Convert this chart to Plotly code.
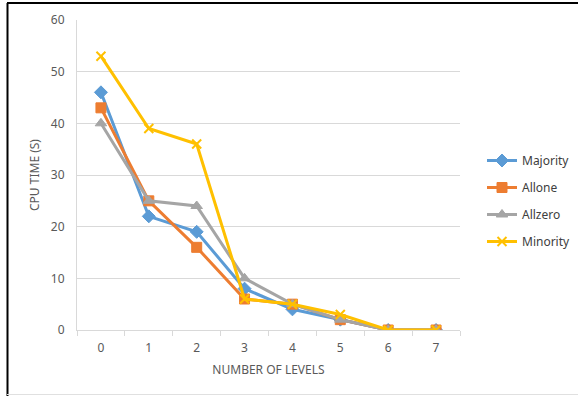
import plotly.graph_objects as go

levels = [0, 1, 2, 3, 4, 5, 6, 7]
majority = [46, 22, 19, 8, 4, 2, 0, 0]
allone = [43, 25, 16, 6, 5, 2, 0, 0]
allzero = [40, 25, 24, 10, 5, 2, 0, 0]
minority = [53, 39, 36, 6, 5, 3, 0, 0]
y_ticks = [0, 10, 20, 30, 40, 50, 60]

series = [
    ("Majority", majority, "#5B9BD5", "diamond", 10),
    ("Allone", allone, "#ED7D31", "square", 10),
    ("Allzero", allzero, "#A5A5A5", "triangle-up", 10),
    ("Minority", minority, "#FFC000", "x-thin", 9),
]

W, H = 578, 396
L, R, T, B = 77, 118, 20, 66
pw, ph = W - L - R, H - T - B

FONT = "Noto Sans"
TXT = "#595959"

fig = go.Figure()
for i, (name, vals, col, sym, sz) in enumerate(series):
    marker = dict(symbol=sym, size=sz, color=col)
    if sym == "x-thin":
        marker["line"] = dict(color=col, width=2)
    else:
        marker["line"] = dict(color=col, width=1)
    fig.add_trace(go.Scatter(
        x=levels, y=vals, name=name, mode="lines+markers",
        line=dict(color=col, width=3), marker=marker,
        legendgroup=name,
    ))

def px_x(p):
    return (p - L) / pw

def px_y(p):
    return 1 - (p - T) / ph

shapes = [
    dict(type="line", xref="paper", yref="paper", x0=px_x(7), x1=px_x(580), y0=px_y(3), y1=px_y(3),
         line=dict(color="black", width=2)),
    dict(type="line", xref="paper", yref="paper", x0=px_x(7.5), x1=px_x(7.5), y0=px_y(3), y1=px_y(398),
         line=dict(color="black", width=2)),
    dict(type="line", xref="paper", yref="paper", x0=px_x(7), x1=px_x(580), y0=px_y(394.5), y1=px_y(394.5),
         line=dict(color="#e0e0e0", width=1)),
]

fig.update_layout(
    width=W, height=H,
    margin=dict(l=L, r=R, t=T, b=B, autoexpand=False),
    paper_bgcolor="white", plot_bgcolor="white",
    font=dict(family=FONT, size=12, color=TXT),
    showlegend=True,
    legend=dict(xref="container", yref="container", x=482 / W, y=1 - 146 / H,
                xanchor="left", yanchor="top",
                font=dict(family=FONT, size=12, color="#404040"),
                tracegroupgap=8, itemwidth=30, bgcolor="rgba(0,0,0,0)"),
    shapes=shapes,
    xaxis=dict(
        range=[-0.5, 7.5], tickmode="array", tickvals=levels, ticktext=[str(v) for v in levels],
        ticks="", showgrid=False, zeroline=False,
        showline=True, linecolor="#d9d9d9", linewidth=1,
        minor=dict(tickmode="array", tickvals=[v - 0.5 for v in levels] + [7.5],
                   ticks="outside", ticklen=5, tickcolor="#d9d9d9", showgrid=False),
        title=dict(text="NUMBER OF LEVELS", font=dict(family=FONT, size=12, color=TXT), standoff=10),
        tickfont=dict(family=FONT, size=12, color=TXT), ticklabelstandoff=7,
        fixedrange=True,
    ),
    yaxis=dict(
        range=[0, 60], tickmode="array", tickvals=y_ticks, ticks="",
        showgrid=True, gridcolor="#d9d9d9", gridwidth=1, zeroline=False,
        showline=True, linecolor="#d9d9d9", linewidth=1,
        title=dict(text="CPU TIME (S)", font=dict(family=FONT, size=12, color=TXT), standoff=8),
        tickfont=dict(family=FONT, size=12, color=TXT), ticklabelstandoff=9,
        fixedrange=True,
    ),
)

fig.write_html("out.html")
